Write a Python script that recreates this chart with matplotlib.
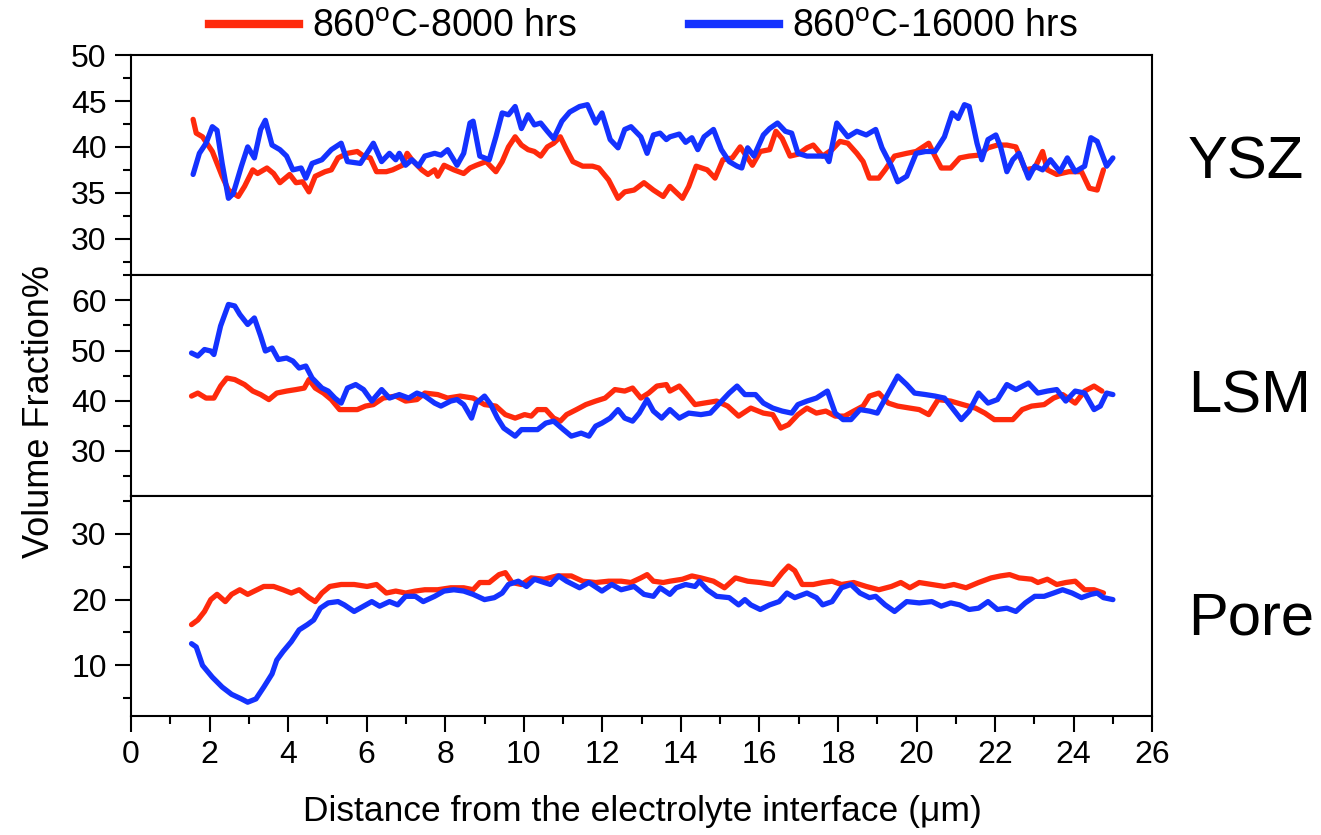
import matplotlib
matplotlib.use('Agg')
import matplotlib.pyplot as plt
from matplotlib.lines import Line2D
from matplotlib.ticker import MultipleLocator

plt.rcParams['font.family'] = ['Liberation Sans', 'DejaVu Sans']
plt.rcParams['mathtext.fontset'] = 'custom'
plt.rcParams['mathtext.rm'] = 'Liberation Sans'

# ---- data (distance in um, volume fraction in %) ----
ysz_8000_x = [1.58, 1.66, 1.82, 2.07, 2.32, 2.48, 2.73, 2.89, 3.10, 3.22,
              3.46, 3.63, 3.79, 4.04, 4.20, 4.37, 4.53, 4.69, 4.94, 5.10,
              5.27, 5.51, 5.76, 5.92, 6.09, 6.25, 6.50, 6.66, 6.91, 7.03,
              7.15, 7.40, 7.56, 7.73, 7.81, 7.97, 8.22, 8.47, 8.63, 8.79,
              9.04, 9.29, 9.45, 9.61, 9.78, 9.94, 10.11, 10.27, 10.43, 10.60,
              10.76, 10.93, 11.09, 11.25, 11.50, 11.75, 11.91, 12.16, 12.40, 12.57,
              12.81, 13.06, 13.30, 13.55,
              13.72, 14.04, 14.20, 14.39, 14.67, 14.87, 15.07, 15.31, 15.51, 15.67,
              15.82, 16.02, 16.26, 16.42, 16.58, 16.78, 16.98, 17.21, 17.37, 17.61,
              17.85, 18.05, 18.25, 18.48, 18.64, 18.80, 19.04, 19.20, 19.44, 19.75,
              19.99, 20.31, 20.47, 20.63, 20.87, 21.10, 21.34, 21.58, 21.82, 22.06,
              22.30, 22.53, 22.77, 23.01, 23.21, 23.33, 23.57, 23.88, 24.20, 24.40,
              24.60, 24.76]
ysz_8000_y = [43.0, 41.5, 41.1, 39.5, 36.8, 35.3, 34.6, 35.7, 37.5, 37.1,
              37.7, 37.1, 36.1, 37.0, 36.1, 36.2, 35.1, 36.8, 37.3, 37.5,
              38.8, 39.3, 39.5, 39.0, 38.8, 37.3, 37.3, 37.5, 38.0, 39.3,
              38.6, 37.5, 37.0, 37.5, 36.8, 38.0, 37.5, 37.1, 37.7, 38.0,
              38.4, 37.3, 38.4, 40.0, 41.1, 40.2, 39.7, 39.5, 39.0, 40.0,
              40.4, 41.1, 39.7, 38.4, 37.9, 37.9, 37.7, 36.4, 34.4, 35.1,
              35.3, 36.1, 35.3, 34.6,
              35.7, 34.4, 35.7, 37.9, 37.5, 36.6, 38.6, 38.8, 40.0, 39.0,
              38.0, 39.5, 39.7, 41.7, 40.9, 39.0, 39.2, 39.9, 40.2, 39.0,
              39.7, 40.6, 40.4, 39.3, 38.4, 36.6, 36.6, 37.5, 39.0, 39.3,
              39.5, 40.4, 39.0, 37.7, 37.7, 38.8, 39.0, 39.1, 39.9, 40.2,
              40.2, 40.0, 37.5, 37.7, 39.5, 37.5, 37.0, 37.3, 37.3, 35.5,
              35.3, 37.5]

ysz_16000_x = [1.58, 1.74, 1.91, 2.07, 2.19, 2.32, 2.48, 2.60, 2.81, 2.97,
               3.14, 3.30, 3.42, 3.59, 3.79, 3.96, 4.12, 4.33, 4.45, 4.61,
               4.86, 5.10, 5.35, 5.51, 5.84, 6.17, 6.38, 6.58, 6.74, 6.83,
               6.99, 7.15, 7.32, 7.48, 7.73, 7.89, 8.06, 8.30, 8.47, 8.63,
               8.71, 8.88, 9.12, 9.29, 9.45, 9.61, 9.78, 9.94, 10.11, 10.27,
               10.43, 10.60, 10.76, 10.97, 11.17, 11.42, 11.62, 11.83, 11.99, 12.20,
               12.40, 12.57, 12.73, 12.98, 13.14, 13.30, 13.47, 13.63,
               13.72, 13.96, 14.12, 14.28, 14.43, 14.59, 14.83, 15.03, 15.23, 15.43,
               15.55, 15.70, 15.86, 16.10, 16.26, 16.46, 16.66, 16.82, 16.98, 17.21,
               17.45, 17.69, 17.77, 17.97, 18.25, 18.48, 18.72, 18.96, 19.12, 19.36,
               19.52, 19.75, 19.99, 20.23, 20.47, 20.71, 20.91, 21.06, 21.22, 21.34,
               21.54, 21.66, 21.82, 22.02, 22.14, 22.30, 22.45, 22.61, 22.85, 23.01,
               23.21, 23.41, 23.65, 23.84, 24.04, 24.28, 24.44, 24.60, 24.84, 25.00]
ysz_16000_y = [37.0, 39.3, 40.4, 42.2, 41.8, 38.2, 34.4, 34.9, 37.9, 40.0,
               38.8, 41.9, 42.9, 40.2, 39.7, 39.0, 37.5, 37.7, 36.6, 38.2,
               38.6, 39.7, 40.4, 38.4, 38.2, 40.4, 38.4, 39.3, 38.6, 39.3,
               38.0, 38.6, 37.9, 39.0, 39.3, 39.1, 39.7, 38.0, 39.3, 42.6,
               42.8, 39.0, 38.6, 41.1, 43.7, 43.5, 44.4, 42.0, 43.5, 42.4,
               42.6, 41.7, 40.9, 42.8, 43.8, 44.4, 44.6, 42.6, 43.7, 40.8,
               39.9, 41.9, 42.2, 41.1, 39.3, 41.3, 41.5, 40.8,
               41.1, 41.4, 40.5, 41.0, 39.7, 41.1, 41.9, 39.7, 38.4, 37.9,
               37.7, 39.9, 39.0, 41.3, 42.0, 42.6, 41.7, 41.5, 39.3, 39.0,
               39.0, 39.0, 38.4, 42.6, 41.1, 41.7, 41.3, 41.9, 39.9, 37.9,
               36.2, 36.8, 39.3, 39.5, 39.5, 41.1, 43.7, 43.1, 44.6, 44.4,
               40.4, 38.6, 40.8, 41.3, 40.0, 37.3, 38.6, 39.3, 36.6, 37.9,
               37.5, 38.6, 37.3, 38.8, 37.3, 37.9, 41.0, 40.6, 37.9, 38.8]

lsm_8000_x = [1.54, 1.70, 1.91, 2.11, 2.28, 2.44, 2.64, 2.89, 3.10, 3.30,
              3.51, 3.71, 3.96, 4.20, 4.41, 4.53, 4.69, 4.90, 5.10, 5.31,
              5.51, 5.76, 5.97, 6.17, 6.42, 6.74, 6.99, 7.28, 7.48, 7.81,
              8.06, 8.38, 8.71, 9.00, 9.29, 9.53, 9.78, 10.02, 10.19, 10.35,
              10.56, 10.76, 10.93, 11.09, 11.34, 11.58, 11.83, 12.07, 12.32, 12.57,
              12.77, 12.98, 13.18, 13.39, 13.63,
              13.72, 13.96, 14.12, 14.36, 14.59, 14.91, 15.19, 15.47, 15.78, 16.10,
              16.34, 16.54, 16.74, 16.98, 17.21, 17.45, 17.69, 17.93, 18.17, 18.40,
              18.64, 18.80, 19.04, 19.28, 19.52, 19.83, 20.07, 20.31, 20.55, 20.87,
              21.18, 21.50, 21.74, 21.98, 22.22, 22.45, 22.69, 22.93, 23.25, 23.49,
              23.72, 24.04, 24.28, 24.52, 24.72]
lsm_8000_y = [40.9, 41.5, 40.5, 40.5, 42.9, 44.5, 44.2, 43.2, 41.9, 41.2,
              40.2, 41.5, 41.9, 42.2, 42.5, 44.2, 42.5, 41.5, 40.2, 38.2,
              38.2, 38.2, 38.9, 39.2, 40.5, 40.9, 39.9, 40.2, 41.5, 41.2,
              40.5, 40.9, 40.5, 39.2, 38.9, 37.2, 36.5, 37.2, 36.9, 38.2,
              38.2, 36.5, 35.9, 37.2, 38.2, 39.2, 39.9, 40.5, 42.2, 41.9,
              42.5, 40.5, 41.5, 42.9, 43.2,
              41.9, 42.9, 41.5, 39.2, 39.5, 39.9, 38.9, 36.9, 38.5, 37.5,
              37.2, 34.5, 35.2, 37.2, 38.5, 37.5, 37.9, 36.9, 36.9, 37.9,
              38.9, 40.9, 41.5, 39.5, 38.9, 38.5, 38.2, 37.2, 40.2, 39.9,
              39.2, 38.5, 37.5, 36.2, 36.2, 36.2, 38.2, 38.9, 39.2, 40.5,
              41.2, 39.5, 41.9, 42.9, 41.9]

lsm_16000_x = [1.54, 1.70, 1.87, 2.03, 2.11, 2.28, 2.48, 2.64, 2.77, 2.97,
               3.14, 3.30, 3.42, 3.59, 3.75, 3.96, 4.12, 4.28, 4.45, 4.61,
               4.86, 5.02, 5.19, 5.35, 5.51, 5.72, 5.92, 6.13, 6.38, 6.58,
               6.83, 7.07, 7.28, 7.48, 7.73, 7.89, 8.14, 8.30, 8.47, 8.67,
               8.79, 9.00, 9.16, 9.33, 9.49, 9.78, 9.94, 10.19, 10.35, 10.56,
               10.76, 11.01, 11.21, 11.46, 11.66, 11.83, 11.99, 12.20, 12.40, 12.57,
               12.77, 12.94, 13.14, 13.30, 13.51,
               13.72, 13.96, 14.20, 14.51, 14.75, 14.99, 15.23, 15.43, 15.63, 15.90,
               16.10, 16.34, 16.58, 16.82, 16.98, 17.21, 17.45, 17.73, 17.93, 18.13,
               18.33, 18.56, 18.80, 19.00, 19.24, 19.52, 19.75, 19.95, 20.23, 20.47,
               20.71, 20.91, 21.14, 21.34, 21.58, 21.82, 22.06, 22.30, 22.53, 22.85,
               23.09, 23.33, 23.57, 23.80, 24.04, 24.28, 24.52, 24.68, 24.84, 25.00]
lsm_16000_y = [49.5, 48.9, 50.2, 49.9, 49.2, 54.9, 59.2, 58.9, 57.2, 55.2,
               56.5, 52.9, 49.9, 50.5, 48.2, 48.5, 47.9, 46.5, 46.9, 44.5,
               42.5, 41.9, 40.5, 39.5, 42.5, 43.2, 42.2, 39.9, 42.2, 40.5,
               41.2, 40.5, 41.5, 40.9, 39.5, 38.9, 39.9, 40.2, 39.2, 36.5,
               39.5, 40.9, 39.2, 36.5, 34.5, 32.9, 34.2, 34.2, 34.2, 35.5,
               35.9, 34.2, 32.9, 33.5, 32.9, 34.9, 35.5, 36.5, 38.2, 36.5,
               35.9, 37.5, 40.2, 37.9, 36.5,
               38.2, 36.5, 37.5, 37.2, 37.5, 39.5, 41.5, 42.9, 41.2, 41.2,
               39.5, 38.5, 37.9, 37.5, 39.2, 39.9, 40.5, 41.9, 37.5, 36.2,
               36.2, 38.2, 37.9, 37.5, 40.9, 44.9, 43.2, 41.5, 41.2, 40.9,
               40.5, 38.5, 36.2, 37.9, 41.5, 39.5, 40.2, 43.2, 42.2, 43.5,
               41.5, 41.9, 42.2, 39.9, 41.9, 41.5, 38.2, 38.9, 41.5, 41.2]

pore_8000_x = [1.54, 1.70, 1.87, 2.03, 2.19, 2.40, 2.56, 2.77, 2.97, 3.14,
               3.38, 3.63, 3.87, 4.08, 4.28, 4.53, 4.69, 4.86, 5.06, 5.35,
               5.68, 6.01, 6.25, 6.50, 6.74, 6.99, 7.24, 7.48, 7.81, 8.14,
               8.47, 8.71, 8.88, 9.12, 9.37, 9.53, 9.70, 9.94, 10.19, 10.52,
               10.84, 11.21, 11.50, 11.83, 12.16, 12.48, 12.73, 12.98, 13.14, 13.30,
               13.55,
               13.72, 14.04, 14.28, 14.51, 14.83, 15.11, 15.39, 15.70, 16.02, 16.34,
               16.58, 16.74, 16.90, 17.09, 17.37, 17.61, 17.85, 18.09, 18.40, 18.72,
               19.04, 19.36, 19.60, 19.83, 20.07, 20.39, 20.71, 20.95, 21.26, 21.58,
               21.90, 22.14, 22.37, 22.61, 22.93, 23.09, 23.33, 23.57, 23.80, 24.04,
               24.28, 24.52, 24.76]
pore_8000_y = [16.2, 16.9, 18.2, 20.0, 20.8, 19.7, 20.8, 21.5, 20.8, 21.3,
               22.0, 22.0, 21.5, 21.0, 21.5, 20.3, 19.7, 21.0, 22.0, 22.3,
               22.3, 22.0, 22.3, 21.0, 21.3, 21.0, 21.3, 21.5, 21.5, 21.8,
               21.8, 21.5, 22.6, 22.6, 23.8, 24.1, 22.6, 22.3, 23.3, 23.1,
               23.6, 23.6, 22.8, 22.6, 22.8, 22.8, 22.6, 23.3, 23.8, 22.8,
               22.6,
               22.8, 23.1, 23.6, 23.3, 22.8, 21.8, 23.3, 22.8, 22.6, 22.3,
               24.1, 25.1, 24.4, 22.3, 22.3, 22.6, 22.8, 22.3, 22.6, 22.0,
               21.5, 22.0, 22.6, 21.8, 22.6, 22.3, 22.0, 22.3, 21.8, 22.6,
               23.3, 23.6, 23.8, 23.3, 23.1, 22.6, 23.1, 22.3, 22.6, 22.8,
               21.5, 21.5, 21.0]

pore_16000_x = [1.54, 1.66, 1.82, 2.07, 2.32, 2.56, 2.81, 2.97, 3.18, 3.38,
                3.59, 3.71, 3.87, 4.08, 4.28, 4.49, 4.65, 4.82, 5.02, 5.27,
                5.43, 5.68, 5.92, 6.13, 6.33, 6.58, 6.79, 6.99, 7.24, 7.44,
                7.73, 7.97, 8.22, 8.47, 8.71, 9.00, 9.25, 9.45, 9.61, 9.86,
                10.07, 10.27, 10.52, 10.68, 10.89, 11.09, 11.42, 11.66, 11.99, 12.24,
                12.48, 12.81, 13.06, 13.30, 13.47,
                13.72, 13.88, 14.12, 14.36, 14.47, 14.67, 14.91, 15.23, 15.47, 15.63,
                15.78, 16.02, 16.26, 16.50, 16.70, 16.90, 17.21, 17.45, 17.61, 17.85,
                18.09, 18.33, 18.56, 18.80, 18.96, 19.20, 19.44, 19.75, 20.07, 20.39,
                20.63, 20.87, 21.10, 21.34, 21.58, 21.82, 22.06, 22.30, 22.53, 22.77,
                23.01, 23.25, 23.49, 23.72, 23.96, 24.20, 24.44, 24.60, 24.76, 25.00]
pore_16000_y = [13.3, 12.8, 10.0, 8.2, 6.7, 5.6, 4.9, 4.4, 4.9, 6.7,
                8.7, 10.8, 12.1, 13.6, 15.4, 16.2, 16.9, 18.7, 19.5, 19.7,
                19.2, 18.2, 19.0, 19.7, 19.0, 19.7, 19.2, 20.5, 20.5, 19.7,
                20.5, 21.3, 21.5, 21.3, 20.8, 20.0, 20.3, 21.0, 22.3, 22.8,
                22.0, 23.1, 22.6, 22.3, 23.6, 22.8, 21.8, 22.6, 21.3, 22.3,
                21.5, 22.0, 20.8, 20.5, 21.8,
                20.8, 21.8, 22.3, 22.0, 22.8, 21.5, 20.5, 20.3, 19.2, 20.0,
                19.2, 18.5, 19.2, 19.7, 21.0, 20.3, 21.0, 20.3, 19.2, 19.7,
                21.8, 22.3, 21.0, 20.3, 20.5, 19.2, 18.2, 19.7, 19.5, 19.7,
                19.0, 19.5, 19.2, 18.5, 18.7, 19.7, 18.5, 18.7, 18.2, 19.5,
                20.5, 20.5, 21.0, 21.5, 21.0, 20.3, 20.8, 21.0, 20.3, 20.0]

panel_names = ['YSZ', 'LSM', 'Pore']
series_labels = ['860$^{\\rm o}$C-8000 hrs', '860$^{\\rm o}$C-16000 hrs']

red = '#ff2a0c'
blue = '#1432ff'

fig = plt.figure(figsize=(13.21, 8.35), dpi=100)
left, width = 0.0992, 0.773
bottom, top = 0.1425, 0.934
h = (top - bottom) / 3

panels = [
    (ysz_8000_x, ysz_8000_y, ysz_16000_x, ysz_16000_y, (26, 50), 5, 0.51),
    (lsm_8000_x, lsm_8000_y, lsm_16000_x, lsm_16000_y, (21, 65), 10, 0.45),
    (pore_8000_x, pore_8000_y, pore_16000_x, pore_16000_y, (2.3, 35.8), 10, 0.44),
]

for i, (xr, yr, xb, yb, ylim, step, ty) in enumerate(panels):
    ax = fig.add_axes([left, bottom + (2 - i) * h, width, h])
    ax.plot(xr, yr, color=red, lw=3.8, solid_joinstyle='round', solid_capstyle='round')
    ax.plot(xb, yb, color=blue, lw=3.8, solid_joinstyle='round', solid_capstyle='round')
    ax.set_xlim(0, 26)
    ax.set_ylim(*ylim)
    ax.xaxis.set_major_locator(MultipleLocator(2))
    ax.xaxis.set_minor_locator(MultipleLocator(1))
    ax.yaxis.set_major_locator(MultipleLocator(step))
    ax.yaxis.set_minor_locator(MultipleLocator(step / 2))
    ax.tick_params(which='both', direction='out', right=False, top=False,
                   width=1.5, labelsize=23, colors='black')
    ax.tick_params(which='major', length=11.5, pad=6)
    ax.tick_params(which='minor', length=6)
    if i < 2:
        ax.tick_params(axis='x', which='both', bottom=False, labelbottom=False)
    for sp in ax.spines.values():
        sp.set_linewidth(1.5)
    ax.text(1.035, ty, panel_names[i], transform=ax.transAxes,
            fontsize=43, va='center', ha='left')

handles = [Line2D([], [], color=red, lw=6), Line2D([], [], color=blue, lw=6)]
fig.legend(handles, series_labels, loc='center', bbox_to_anchor=(0.487, 0.968),
           ncol=2, frameon=False, fontsize=27, handlelength=2.4,
           handletextpad=0.35, columnspacing=3.0)

fig.text(0.03, 0.507, 'Volume Fraction%', rotation=90, fontsize=26,
         va='center', ha='center')
fig.text(0.486, 0.028, 'Distance from the electrolyte interface (\u03bcm)',
         fontsize=25.5, va='center', ha='center')

fig.savefig('out.png', dpi=100)
